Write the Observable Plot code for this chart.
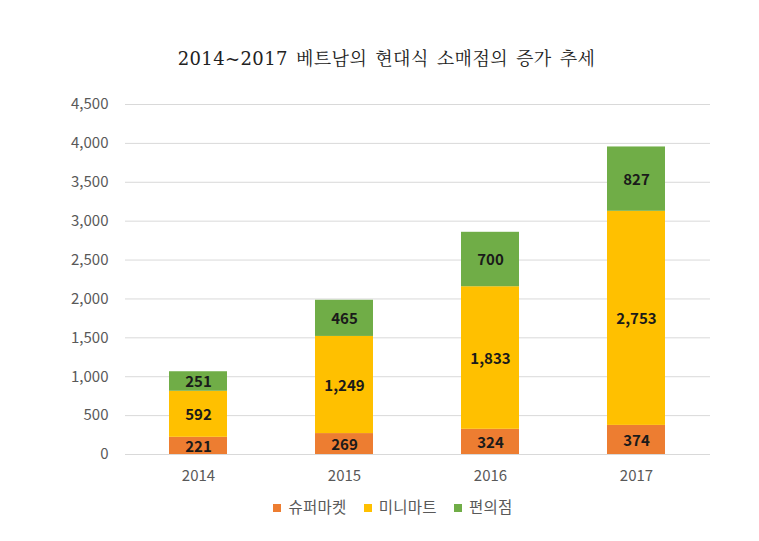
<!DOCTYPE html>
<html><head><meta charset="utf-8">
<script src="https://cdn.jsdelivr.net/npm/d3@7"></script>
<script src="https://cdn.jsdelivr.net/npm/@observablehq/plot@0.6"></script>
<style>
body{margin:0;background:#fff;width:759px;height:541px;overflow:hidden;font-family:"Noto Sans CJK KR","Noto Sans",sans-serif;}
#title{height:75px;box-sizing:border-box;padding-top:45px;padding-left:14px;text-align:center;font-family:"DejaVu Serif","Liberation Serif","Noto Serif CJK KR",serif;font-size:18px;line-height:28px;color:#222;letter-spacing:0.4px;word-spacing:2px;}
#legend{display:flex;justify-content:center;gap:17px;margin-top:2px;padding-left:27px;font-size:15.5px;color:#595959;line-height:20px;letter-spacing:0.3px;}
#legend span.sw{display:inline-block;width:8px;height:8px;margin-right:7px;vertical-align:middle;position:relative;top:-1px;}
</style></head><body>
<div id="title">2014~2017 베트남의 현대식 소매점의 증가 추세</div>
<div id="chart"></div>
<div id="legend"></div>
<script>
const years = ["2014","2015","2016","2017"];
const series = ["슈퍼마켓","미니마트","편의점"];
const colors = ["#ED7D31","#FFC000","#70AD47"];
const supermarket = [221,269,324,374];
const minimart = [592,1249,1833,2753];
const convenience = [251,465,700,827];
const yTicks = [0,500,1000,1500,2000,2500,3000,3500,4000,4500];

const values = [supermarket, minimart, convenience];
const data = [];
series.forEach((s,i)=>years.forEach((y,j)=>data.push({year:y, type:s, value:values[i][j]})));

const fmt = d3.format(",");
const plot = Plot.plot({
  width:759, height:419,
  marginLeft:125, marginRight:49, marginTop:29, marginBottom:40,
  style:{fontFamily:'"Noto Sans CJK KR","Noto Sans",sans-serif', fontSize:"15px", background:"#fff"},
  x:{domain:years, paddingInner:0.6, paddingOuter:0.3, label:null},
  y:{domain:[0,4500], label:null},
  color:{domain:series, range:colors},
  marks:[
    Plot.gridY(yTicks,{stroke:"#d9d9d9", strokeOpacity:1, strokeWidth:1}),
    Plot.barY(data, Plot.stackY({x:"year", y:"value", fill:"type", order:series})),
    Plot.text(data, Plot.stackY({x:"year", y:"value", z:"type", order:series, text:d=>fmt(d.value), fill:"#1a1a1a", fontWeight:"bold", fontSize:15, dy:1})),
    Plot.axisY({ticks:yTicks, tickFormat:fmt, tickSize:0, tickPadding:17, fill:"#595959", fontSize:15}),
    Plot.axisX({tickSize:0, tickPadding:16, fill:"#595959", fontSize:15})
  ]
});
document.getElementById("chart").appendChild(plot);
const lg = document.getElementById("legend");
series.forEach((s,i)=>{
  const it=document.createElement("div");
  it.innerHTML=`<span class="sw" style="background:${colors[i]}"></span>${s}`;
  lg.appendChild(it);
});
</script>
</body></html>
